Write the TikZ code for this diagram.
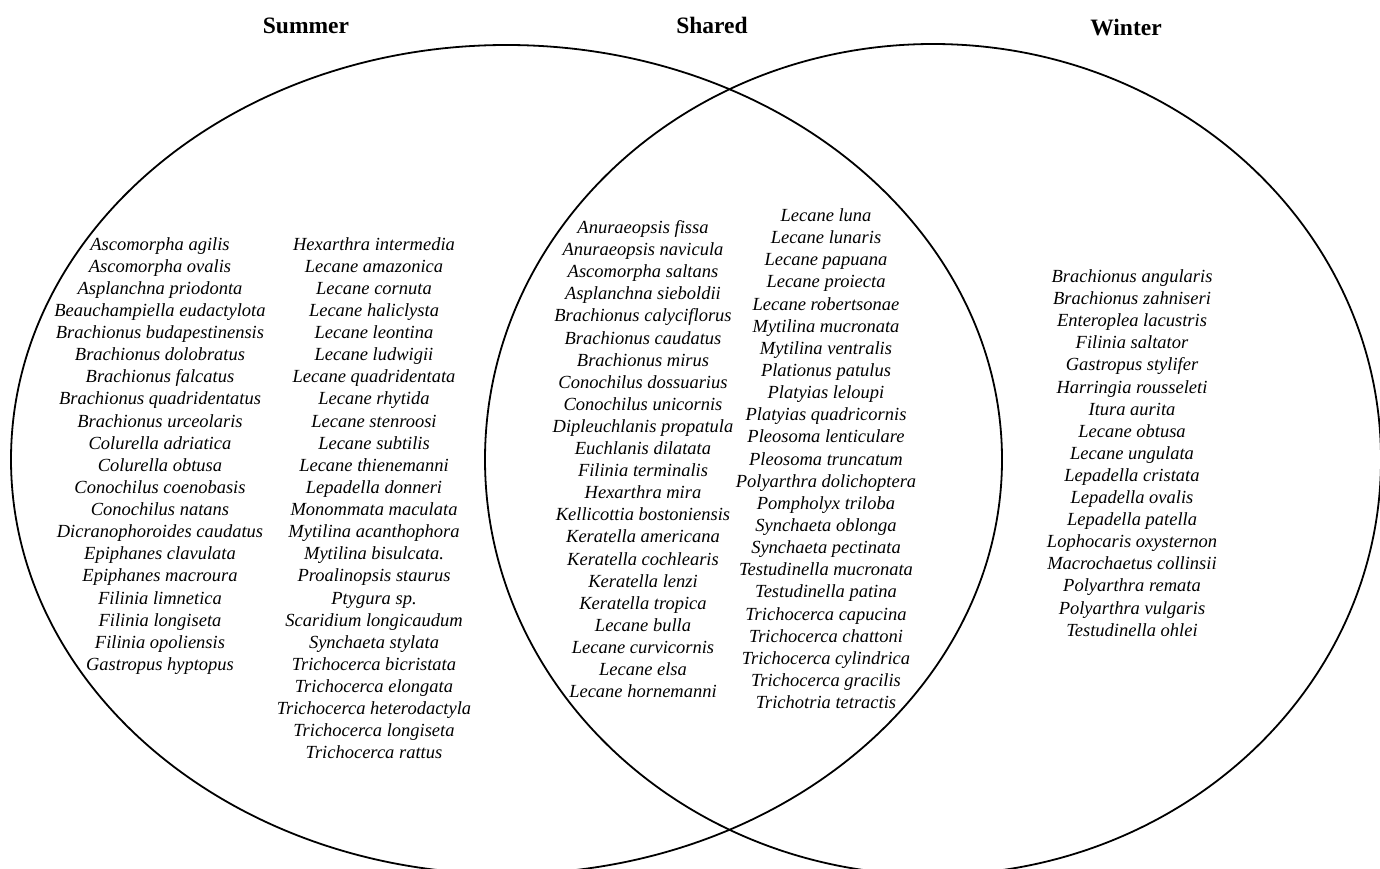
\documentclass[tikz,border=0pt]{standalone}
\usepackage{fontspec}
\setmainfont{Liberation Serif}
\begin{document}
\begin{tikzpicture}[x=1pt,y=-1pt,
  sp/.style={anchor=base,inner sep=0pt,font=\fontsize{18.5pt}{22pt}\selectfont\itshape},
  hd/.style={anchor=base,inner sep=0pt,font=\fontsize{23.5pt}{26pt}\selectfont\bfseries},
  ring/.style={draw=black,line width=1.8pt}]
\useasboundingbox (0,0) rectangle (1380,869);
\clip (0,0) rectangle (1380,869);
\fill[white] (0,0) rectangle (1380,869);
\draw[ring] (506.5,459.5) ellipse [x radius=495.5pt, y radius=414.5pt];
\draw[ring] (933,459.5) ellipse [x radius=448pt, y radius=415.5pt];
\node[hd] (hsummer) at (306,34) {Summer};
\node[hd] (hshared) at (712,34) {Shared};
\node[hd] (hwinter) at (1126,36) {Winter};
\foreach \t [count=\i] in {Ascomorpha agilis,Ascomorpha ovalis,Asplanchna priodonta,Beauchampiella eudactylota,Brachionus budapestinensis,Brachionus dolobratus,Brachionus falcatus,Brachionus quadridentatus,Brachionus urceolaris,Colurella adriatica,Colurella obtusa,Conochilus coenobasis,Conochilus natans,Dicranophoroides caudatus,Epiphanes clavulata,Epiphanes macroura,Filinia limnetica,Filinia longiseta,Filinia opoliensis,Gastropus hyptopus}
  \node[sp] (sa\i) at (160,{250+(\i-1)*22.13}) {\t};
\foreach \t [count=\i] in {Hexarthra intermedia,Lecane amazonica,Lecane cornuta,Lecane haliclysta,Lecane leontina,Lecane ludwigii,Lecane quadridentata,Lecane rhytida,Lecane stenroosi,Lecane subtilis,Lecane thienemanni,Lepadella donneri,Monommata maculata,Mytilina acanthophora,Mytilina bisulcata.,Proalinopsis staurus,Ptygura sp.,Scaridium longicaudum,Synchaeta stylata,Trichocerca bicristata,Trichocerca elongata,Trichocerca heterodactyla,Trichocerca longiseta,Trichocerca rattus}
  \node[sp] (sb\i) at (374,{250+(\i-1)*22.13}) {\t};
\foreach \t [count=\i] in {Anuraeopsis fissa,Anuraeopsis navicula,Ascomorpha saltans,Asplanchna sieboldii,Brachionus calyciflorus,Brachionus caudatus,Brachionus mirus,Conochilus dossuarius,Conochilus unicornis,Dipleuchlanis propatula,Euchlanis dilatata,Filinia terminalis,Hexarthra mira,Kellicottia bostoniensis,Keratella americana,Keratella cochlearis,Keratella lenzi,Keratella tropica,Lecane bulla,Lecane curvicornis,Lecane elsa,Lecane hornemanni}
  \node[sp] (ca\i) at (643,{233.5+(\i-1)*22.1}) {\t};
\foreach \t [count=\i] in {Lecane luna,Lecane lunaris,Lecane papuana,Lecane proiecta,Lecane robertsonae,Mytilina mucronata,Mytilina ventralis,Plationus patulus,Platyias leloupi,Platyias quadricornis,Pleosoma lenticulare,Pleosoma truncatum,Polyarthra dolichoptera,Pompholyx triloba,Synchaeta oblonga,Synchaeta pectinata,Testudinella mucronata,Testudinella patina,Trichocerca capucina,Trichocerca chattoni,Trichocerca cylindrica,Trichocerca gracilis,Trichotria tetractis}
  \node[sp] (cb\i) at (826,{221.5+(\i-1)*22.14}) {\t};
\foreach \t [count=\i] in {Brachionus angularis,Brachionus zahniseri,Enteroplea lacustris,Filinia saltator,Gastropus stylifer,Harringia rousseleti,Itura aurita,Lecane obtusa,Lecane ungulata,Lepadella cristata,Lepadella ovalis,Lepadella patella,Lophocaris oxysternon,Macrochaetus collinsii,Polyarthra remata,Polyarthra vulgaris,Testudinella ohlei}
  \node[sp] (w\i) at (1132,{282.5+(\i-1)*22.1}) {\t};
\end{tikzpicture}
\end{document}
